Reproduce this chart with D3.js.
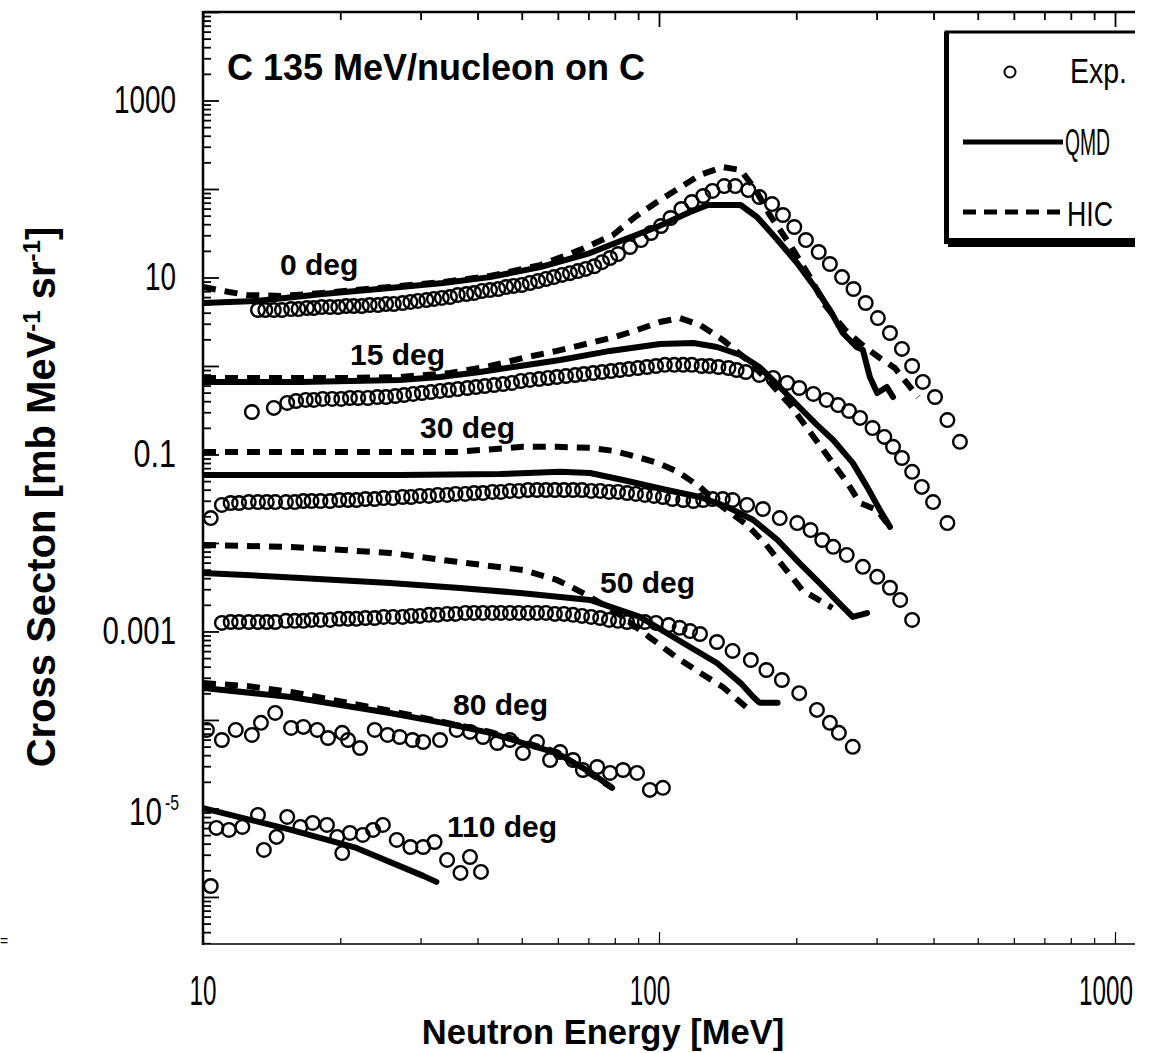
<!DOCTYPE html>
<html>
<head>
<meta charset="utf-8">
<script src="https://cdn.jsdelivr.net/npm/d3@7"></script>
<style>
  body { margin: 0; background: #fff; }
  text { fill: #000; }
</style>
</head>
<body>
<svg id="chart" width="1154" height="1053"></svg>
<script>
'use strict';

// ---- data: [energy MeV, cross section mb/MeV/sr] ----
var exp0 = [[13.2,4.29],[13.7,4.29],[14.3,4.29],[14.9,4.29],[15.6,4.40],[16.2,4.40],[16.9,4.52],[17.5,4.52],[18.2,4.64],[19.0,4.64],
  [19.8,4.64],[20.6,4.76],[21.4,4.76],[22.3,4.76],[23.2,4.89],[24.2,4.89],[25.2,5.02],[26.2,5.02],[27.4,5.15],[28.5,5.29],
  [29.6,5.43],[30.9,5.57],[32.1,5.72],[33.4,5.87],[34.8,6.02],[36.2,6.34],[37.8,6.51],[39.3,6.68],[40.9,7.04],[42.6,7.22],
  [44.4,7.41],[46.2,7.81],[48.0,8.02],[50.0,8.23],[52.1,8.67],[54.3,9.13],[56.5,9.62],[58.8,10.1],[61.3,10.7],[63.8,11.2],
  [66.4,11.8],[69.1,12.5],[72.1,13.4],[75.0,14.9],[78.1,16.6],[81.3,18.4],[86.4,22.1],[91.3,26.5],[96.0,31.8],[101,38.2],
  [106,47.0],[112,59.4],[118,71.3],[125,83.3],[131,95.0],[139,108],[147,108],[157,97.4],[166,81.2],[177,67.6],
  [187,50.8],[198,37.2],[210,26.5],[224,19.4],[237,14.2],[252,10.1],[267,7.41],[284,5.15],[302,3.48],[321,2.36],
  [341,1.56],[359,1.00],[379,0.660],[403,0.446],[429,0.245],[457,0.139]];
var qmd0 = [[10.0,5.15],[13.1,5.43],[18.3,6.51],[25.7,7.61],[33.6,8.67],[42.6,10.1],[54.9,13.1],[70.6,18.9],[83.4,26.5],[99.0,37.2],
  [117,54.9],[128,65.9],[151,65.9],[164,48.3],[182,26.5],[201,14.5],[222,7.22],[237,4.29],[253,2.36],[271,1.64],
  [280,1.52],[290,0.751],[301,0.495],[316,0.579],[326,0.446]];
var hic0 = [[10.0,7.81],[11.4,6.86],[12.5,6.34],[14.8,6.18],[18.3,6.68],[25.7,7.81],[33.6,8.90],[42.6,10.4],[54.9,13.8],[67.1,20.5],
  [79.3,30.2],[88.6,48.3],[99.0,71.3],[109,97.4],[123,144],[138,177],[151,164],[163,97.4],[175,50.8],[194,23.3],
  [215,9.84],[231,4.89],[256,2.55],[279,1.73],[305,1.23],[329,0.949],[370,0.446]];

var exp15 = [[12.8,0.302],[14.3,0.336],[15.3,0.382],[16.0,0.402],[16.8,0.413],[17.5,0.413],[18.3,0.424],[19.2,0.424],[20.1,0.424],[21.0,0.435],
  [21.9,0.435],[23.0,0.435],[24.1,0.446],[25.2,0.446],[26.4,0.458],[27.6,0.470],[28.9,0.483],[30.2,0.495],[31.6,0.508],[33.1,0.522],
  [34.6,0.535],[36.2,0.549],[38.0,0.564],[39.7,0.579],[41.5,0.594],[43.5,0.610],[45.5,0.626],[47.6,0.643],[49.8,0.677],[52.1,0.695],
  [54.6,0.713],[57.1,0.732],[59.7,0.751],[62.5,0.771],[65.5,0.791],[68.4,0.812],[71.7,0.833],[75.0,0.855],[78.5,0.878],[82.1,0.901],
  [85.9,0.925],[89.9,0.949],[94.1,0.974],[98.5,1.00],[103,1.03],[108,1.03],[113,1.03],[118,1.03],[124,1.00],[129,1.00],
  [135,0.974],[142,0.949],[148,0.901],[155,0.855],[166,0.791],[178,0.732],[191,0.643],[203,0.564],[218,0.483],[233,0.413],
  [247,0.362],[261,0.310],[276,0.259],[294,0.199],[312,0.158],[326,0.122],[341,0.0913],[359,0.0636],[377,0.0430],[399,0.0290],
  [429,0.0168]];
var qmd15 = [[10.0,0.660],[12.5,0.660],[16.35,0.660],[21.0,0.677],[27.0,0.695],[33.1,0.751],[40.5,0.855],[49.6,1.00],[60.7,1.17],[78.1,1.48],
  [100.5,1.77],[119,1.82],[134,1.64],[151,1.33],[166,0.974],[184,0.579],[203,0.344],[222,0.216],[241,0.146],[266,0.0804],
  [286,0.0430],[305,0.0236],[321,0.0152]];
var hic15 = [[10.0,0.732],[12.5,0.732],[16.35,0.732],[21.0,0.732],[27.0,0.751],[34.8,0.833],[42.6,1.00],[50.3,1.23],[59.7,1.48],[70.6,1.82],
  [80.2,2.13],[89.5,2.55],[100.5,3.14],[111,3.48],[123,2.91],[138,1.97],[156,1.17],[173,0.695],[194,0.362],[225,0.128],
  [259,0.0476],[276,0.0283],[301,0.0236],[316,0.0168]];

var exp30 = [[10.4,0.0191],[11.0,0.0269],[11.5,0.0283],[12.0,0.0283],[12.6,0.0290],[13.2,0.0290],[13.8,0.0290],[14.4,0.0290],[15.2,0.0290],[15.9,0.0290],
  [16.6,0.0298],[17.3,0.0298],[18.1,0.0298],[19.0,0.0298],[19.9,0.0306],[20.8,0.0306],[21.7,0.0306],[22.7,0.0314],[23.8,0.0314],[24.9,0.0322],
  [26.1,0.0322],[27.4,0.0331],[28.6,0.0331],[29.9,0.0340],[31.3,0.0340],[32.7,0.0349],[34.3,0.0349],[35.8,0.0358],[37.6,0.0358],[39.3,0.0367],
  [41.1,0.0367],[43.1,0.0377],[45.0,0.0377],[47.1,0.0387],[49.3,0.0387],[51.6,0.0397],[54.0,0.0397],[56.5,0.0397],[59.1,0.0397],[61.9,0.0397],
  [64.8,0.0397],[67.8,0.0397],[71.0,0.0387],[74.3,0.0387],[77.7,0.0377],[81.3,0.0377],[85.1,0.0367],[89.0,0.0358],[93.1,0.0349],[97.5,0.0340],
  [102,0.0331],[107,0.0314],[113,0.0306],[119,0.0298],[125,0.0306],[131,0.0314],[138,0.0314],[145,0.0306],[156,0.0269],[169,0.0242],
  [184,0.0191],[201,0.0168],[215,0.0140],[228,0.0108],[241,0.00904],[258,0.00732],[280,0.00537],[301,0.00414],[321,0.00312],[338,0.00227],
  [359,0.00135]];
var qmd30 = [[10.0,0.0587],[16.35,0.0587],[27.0,0.0587],[44.8,0.0602],[60.7,0.0636],[70.6,0.0618],[83.4,0.0515],[104,0.0397],[123,0.0331],[141,0.0256],
  [161,0.0182],[182,0.0108],[203,0.00595],[225,0.00352],[248,0.00210],[266,0.00146],[286,0.00161]];
var hic30 = [[10.0,0.107],[16.35,0.107],[27.0,0.107],[36.0,0.107],[50.3,0.122],[59.7,0.122],[70.6,0.119],[79.3,0.110],[89.5,0.0939],[99.5,0.0800],
  [110,0.0636],[123,0.0430],[136,0.0269],[156,0.0160],[172,0.00949],[187,0.00549],[206,0.00294],[240,0.00184]];

var exp50 = [[11.0,0.00125],[11.5,0.00128],[12.0,0.00128],[12.6,0.00128],[13.2,0.00128],[13.8,0.00128],[14.4,0.00128],[15.2,0.00132],[15.9,0.00132],[16.6,0.00132],
  [17.3,0.00135],[18.1,0.00135],[19.0,0.00135],[19.9,0.00139],[20.8,0.00139],[21.7,0.00139],[22.7,0.00142],[23.8,0.00142],[24.9,0.00146],[26.1,0.00146],
  [27.4,0.00146],[28.6,0.00150],[29.9,0.00150],[31.3,0.00154],[32.7,0.00154],[34.3,0.00158],[35.8,0.00158],[37.6,0.00162],[39.3,0.00162],[41.1,0.00162],
  [43.1,0.00162],[45.0,0.00162],[47.1,0.00162],[49.3,0.00162],[51.6,0.00162],[54.0,0.00162],[56.5,0.00162],[59.1,0.00158],[61.9,0.00158],[64.8,0.00154],
  [67.8,0.00150],[71.0,0.00146],[74.3,0.00142],[77.7,0.00135],[81.3,0.00132],[85.1,0.00128],[89.0,0.00128],[93.1,0.00128],[98.5,0.00125],[105,0.00118],
  [111,0.00110],[117,0.00101],[123,0.000936],[134,0.000760],[145,0.000603],[159,0.000476],[172,0.000367],[186,0.000283],[203,0.000201],[222,0.000130],
  [237,9.27e-5],[248,7.15e-5],[266,4.97e-5]];
var qmd50 = [[10.0,0.00459],[16.35,0.00403],[25.7,0.00352],[36.6,0.00309],[50.3,0.00271],[70.6,0.00227],[90.8,0.00146],[113,0.000741],[134,0.000440],[151,0.000261],
  [161,0.000182],[166,0.000157],[182,0.000157]];
var hic50 = [[10.0,0.00949],[15.6,0.00903],[25.7,0.00772],[36.0,0.00612],[50.3,0.00495],[59.7,0.00382],[64.8,0.00311],[70.6,0.00246],[82.1,0.00154],[95.5,0.000855],
  [109,0.000515],[123,0.000341],[138,0.000236],[156,0.000137]];

var exp80 = [[10.2,7.71e-5],[11.0,5.94e-5],[11.8,7.71e-5],[12.8,6.77e-5],[13.4,9.27e-5],[14.4,1.20e-4],[15.6,8.13e-5],[16.6,8.35e-5],[17.8,7.71e-5],[18.8,6.25e-5],
  [20.2,7.15e-5],[20.8,5.94e-5],[22.1,4.82e-5],[23.8,7.71e-5],[25.4,6.77e-5],[27.0,6.42e-5],[28.8,5.94e-5],[30.4,5.64e-5],[33.1,5.94e-5],[36.0,7.71e-5],
  [38.5,7.33e-5],[41.1,6.42e-5],[44.2,5.49e-5],[47.1,5.94e-5],[50.3,4.23e-5],[54.0,5.64e-5],[57.7,3.53e-5],[60.7,4.34e-5],[64.8,3.53e-5],[68.1,2.72e-5],
  [73.2,2.94e-5],[78.1,2.52e-5],[83.4,2.72e-5],[89.5,2.52e-5],[95.5,1.62e-5],[102,1.71e-5]];
var qmd80 = [[10.0,0.000230],[15.6,0.000182],[25.7,0.000120],[33.6,9.27e-5],[42.6,7.15e-5],[50.3,5.49e-5],[59.7,4.23e-5],[70.6,2.58e-5],[78.9,1.71e-5]];
var hic80 = [[10.0,0.000261],[12.5,0.000242],[15.6,0.000207],[25.7,0.000127],[42.6,7.33e-5],[59.7,4.34e-5],[78.9,1.71e-5]];

var exp110 = [[10.4,1.33e-6],[10.7,6.03e-6],[11.4,5.72e-6],[12.2,6.18e-6],[13.2,8.45e-6],[13.6,3.40e-6],[14.5,4.77e-6],[15.3,8.02e-6],[16.35,6.18e-6],[17.4,6.86e-6],
  [18.7,6.51e-6],[19.7,4.77e-6],[20.2,3.13e-6],[21.0,5.29e-6],[22.4,5.02e-6],[23.6,5.72e-6],[24.8,6.51e-6],[26.6,4.41e-6],[28.5,3.67e-6],[30.4,3.67e-6],
  [32.2,4.18e-6],[34.3,2.62e-6],[36.7,1.87e-6],[38.5,2.83e-6],[40.7,1.92e-6]];
var qmd110 = [[10.0,1.01e-5],[15.6,5.72e-6],[21.7,3.58e-6],[30.4,1.73e-6],[32.5,1.48e-6]];

var angleLabels = ['0 deg', '15 deg', '30 deg', '50 deg', '80 deg', '110 deg'];
var xTickValues = [10, 100, 1000];
var xTickText = ['10', '100', '1000'];
var yTickValues = [1000, 10, 0.1, 0.001, 1e-5];
var yTickText = ['1000', '10', '0.1', '0.001', '10^-5'];
var legendText = ['Exp.', 'QMD', 'HIC'];

// ---- layout ----
var svg = d3.select('#chart');
var box = {left: 203, top: 12, bottom: 944, right: 1135};
var FONT = 'Liberation Sans, Arial, sans-serif';

var x = d3.scaleLog().domain([10, 1000]).range([203, 1115]);
var y = d3.scaleLog().domain([2.94e-7, 1e4]).range([box.bottom, box.top]);

svg.append('defs').append('clipPath').attr('id', 'plotClip')
  .append('rect').attr('x', box.left).attr('y', box.top)
  .attr('width', box.right - box.left).attr('height', box.bottom - box.top);

function isMajor(v) {
  var l = Math.log10(v);
  return Math.abs(l - Math.round(l)) < 1e-6;
}

// narrow, tall numerals like the scanned original: squeeze a text to a given width
function condensed(parent, str, xLeft, baseline, width, size) {
  var t = parent.append('text').attr('font-family', FONT).attr('font-size', size).text(str);
  var natural = t.node().getComputedTextLength();
  t.attr('transform', 'translate(' + xLeft + ',' + baseline + ') scale(' + (width / natural) + ',1)');
  return t;
}

// tick positions: 1..9 x 10^n
var yTicks = [];
d3.range(-7, 5).forEach(function(e) {
  d3.range(1, 10).forEach(function(m) {
    var v = m * Math.pow(10, e);
    if (v >= y.domain()[0] && v <= 1.0001e4) yTicks.push(v);
  });
});
var xTicks = [];
d3.range(1, 3).forEach(function(e) {
  d3.range(1, 10).forEach(function(m) { xTicks.push(m * Math.pow(10, e)); });
});
xTicks.push(1000);

var axisG = svg.append('g').attr('clip-path', 'url(#plotClip)');

axisG.append('g').attr('transform', 'translate(' + box.left + ',0)')
  .call(d3.axisLeft(y).tickValues(yTicks).tickSize(-8).tickFormat(''))
  .call(function(g) {
    g.select('.domain').remove();
    g.selectAll('.tick line').attr('stroke', '#000').attr('stroke-width', 1.8)
      .attr('x2', function(d) { return isMajor(d) ? 16 : 8; });
  });

axisG.append('g').attr('transform', 'translate(0,' + box.top + ')')
  .call(d3.axisTop(x).tickValues(xTicks).tickSize(-8).tickFormat(''))
  .call(function(g) {
    g.select('.domain').remove();
    g.selectAll('.tick line').attr('stroke', '#000').attr('stroke-width', 1.8)
      .attr('y2', function(d) { return isMajor(d) ? 15 : 8; });
  });

axisG.append('g').attr('transform', 'translate(0,' + box.bottom + ')')
  .call(d3.axisBottom(x).tickValues(xTicks).tickSize(-6).tickFormat(''))
  .call(function(g) {
    g.select('.domain').remove();
    g.selectAll('.tick line').attr('stroke', '#000').attr('stroke-width', 1.2)
      .attr('y2', function(d) { return isMajor(d) ? -12 : -6; });
  });

// frame
svg.append('line').attr('x1', box.left).attr('x2', box.left).attr('y1', box.top - 1).attr('y2', box.bottom + 1)
  .attr('stroke', '#000').attr('stroke-width', 2.5);
svg.append('line').attr('x1', box.left).attr('x2', box.right).attr('y1', box.top).attr('y2', box.top)
  .attr('stroke', '#000').attr('stroke-width', 2.5);
svg.append('line').attr('x1', box.left).attr('x2', box.right).attr('y1', box.bottom).attr('y2', box.bottom)
  .attr('stroke', '#000').attr('stroke-width', 1.6);

// ---- series ----
var series = [
  {exp: exp0, qmd: qmd0, hic: hic0},
  {exp: exp15, qmd: qmd15, hic: hic15},
  {exp: exp30, qmd: qmd30, hic: hic30},
  {exp: exp50, qmd: qmd50, hic: hic50},
  {exp: exp80, qmd: qmd80, hic: hic80},
  {exp: exp110, qmd: qmd110, hic: null}
];

var line = d3.line()
  .x(function(d) { return x(d[0]); })
  .y(function(d) { return y(d[1]); });

var plotG = svg.append('g').attr('clip-path', 'url(#plotClip)');

series.forEach(function(s) {
  if (s.hic) {
    plotG.append('path').attr('d', line(s.hic))
      .attr('fill', 'none').attr('stroke', '#000').attr('stroke-width', 6)
      .attr('stroke-dasharray', '13,9').attr('stroke-linejoin', 'round');
  }
  plotG.append('path').attr('d', line(s.qmd))
    .attr('fill', 'none').attr('stroke', '#000').attr('stroke-width', 6)
    .attr('stroke-linejoin', 'round').attr('stroke-linecap', 'round');
});

series.forEach(function(s) {
  plotG.append('g').selectAll('circle').data(s.exp).join('circle')
    .attr('cx', function(d) { return x(d[0]); })
    .attr('cy', function(d) { return y(d[1]); })
    .attr('r', 6.8)
    .attr('fill', 'none').attr('stroke', '#000').attr('stroke-width', 2.4);
});

// angle labels (start x, baseline y)
var labelPos = [[280, 275], [350, 365], [420, 438], [600, 593], [453, 715], [447, 837]];
svg.append('g').selectAll('text').data(angleLabels).join('text')
  .attr('x', function(d, i) { return labelPos[i][0]; })
  .attr('y', function(d, i) { return labelPos[i][1]; })
  .attr('font-family', FONT)
  .attr('font-weight', 'bold').attr('font-size', 30)
  .text(function(d) { return d; });

// title
svg.append('text').attr('x', 227).attr('y', 80)
  .attr('font-family', FONT)
  .attr('font-weight', 'bold').attr('font-size', 36)
  .text('C 135 MeV/nucleon on C');

// ---- tick labels ----
var yLab = svg.append('g');
yTickValues.forEach(function(v, i) {
  var parts = yTickText[i].split('^');
  var base = parts[0];
  var yy = y(v) + 13;
  if (parts.length > 1) {
    condensed(yLab, base, 129, yy + 4, 33, 38);
    condensed(yLab, parts[1], 165, yy - 11, 14, 22);
  } else {
    var w = base.length * 15.5 - (base.indexOf('.') >= 0 ? 4 : 0);
    condensed(yLab, base, 176 - w, yy, w, 38);
  }
});

var xLab = svg.append('g');
xTickValues.forEach(function(v, i) {
  var t = xTickText[i];
  var w = t.length * 13.5;
  condensed(xLab, t, x(v) - w / 2 - (i > 0 ? 9 : 0), 1005, w, 42);
});

// axis titles
svg.append('text').attr('x', 603).attr('y', 1044).attr('text-anchor', 'middle')
  .attr('font-family', FONT)
  .attr('font-weight', 'bold').attr('font-size', 34.5)
  .text('Neutron Energy [MeV]');

var yTitle = svg.append('text')
  .attr('transform', 'translate(55,497) rotate(-90)').attr('text-anchor', 'middle')
  .attr('font-family', FONT)
  .attr('font-weight', 'bold').attr('font-size', 40);
yTitle.append('tspan').text('Cross Secton [mb MeV');
yTitle.append('tspan').attr('dy', -15).attr('font-size', 24).text('-1');
yTitle.append('tspan').attr('dy', 15).text(' sr');
yTitle.append('tspan').attr('dy', -15).attr('font-size', 24).text('-1');
yTitle.append('tspan').attr('dy', 15).text(']');

// ---- legend ----
var lg = svg.append('g').attr('clip-path', 'url(#plotClip)');
lg.append('rect').attr('x', 946).attr('y', 32).attr('width', 260).attr('height', 208)
  .attr('fill', '#fff').attr('stroke', '#000').attr('stroke-width', 3);
lg.append('rect').attr('x', 944).attr('y', 32).attr('width', 5).attr('height', 212).attr('fill', '#000');
lg.append('rect').attr('x', 948).attr('y', 238).attr('width', 260).attr('height', 9).attr('fill', '#000');
lg.append('circle').attr('cx', 1010).attr('cy', 72).attr('r', 5.5)
  .attr('fill', 'none').attr('stroke', '#000').attr('stroke-width', 2);
lg.append('line').attr('x1', 963).attr('x2', 1063).attr('y1', 142).attr('y2', 142)
  .attr('stroke', '#000').attr('stroke-width', 5);
lg.append('line').attr('x1', 963).attr('x2', 1063).attr('y1', 212).attr('y2', 212)
  .attr('stroke', '#000').attr('stroke-width', 5).attr('stroke-dasharray', '13,8');
var legendPos = [[1070, 83, 57], [1065, 155, 45], [1067, 226, 46]];
legendText.forEach(function(t, i) {
  condensed(lg, t, legendPos[i][0], legendPos[i][1], legendPos[i][2], 36);
});

// stray mark at the left edge of the scan
svg.append('text').attr('x', 0).attr('y', 946).attr('font-size', 14)
  .attr('font-family', FONT).text('=');
</script>
</body>
</html>
